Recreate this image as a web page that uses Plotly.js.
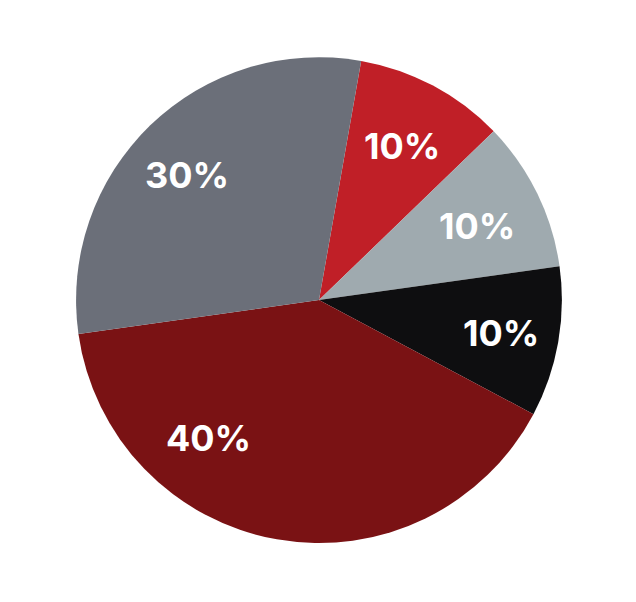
<!DOCTYPE html>
<html>
<head>
<meta charset="utf-8">
<script src="https://cdn.plot.ly/plotly-3.0.1.min.js"></script>
<style>html,body{margin:0;padding:0;background:#fff;}#chart{width:636px;height:602px;}</style>
</head>
<body>
<div id="chart"></div>
<script>
const labels = ["A", "B", "C", "D", "E"];
const values = [10, 10, 10, 40, 30];
const textLabels = ["10%", "10%", "10%", "40%", "30%"];
const colors = ["#C01F27", "#9FAAAF", "#0E0E10", "#7A1214", "#6B6F79"];

// label placement styling (angle nudge in degrees, radius as fraction of pie radius)
const labelAngleNudge = [0.5, 1, 0.3, 28.7, -2.6];
const labelRadiusFrac = [0.72, 0.72, 0.76, 0.73, 0.75];

const W = 636, H = 602;
const domX = [0.1195, 0.8836], domY = [0.098, 0.905];
const rotation = 10;

const trace = {
  type: "pie",
  labels: labels,
  values: values,
  textinfo: "none",
  sort: false,
  direction: "clockwise",
  rotation: rotation,
  marker: { colors: colors, line: { width: 0 } },
  hoverinfo: "none",
  domain: { x: domX, y: domY }
};

// compute label positions from the data values (cumulative slice angles)
const total = values.reduce((a, b) => a + b, 0);
const cx = (domX[0] + domX[1]) / 2 * W;
const cyTop = (1 - (domY[0] + domY[1]) / 2) * H;
const R = Math.min((domX[1] - domX[0]) * W, (domY[1] - domY[0]) * H) / 2;
let cum = 0;
const annotations = values.map((v, i) => {
  const mid = rotation + (cum + v / 2) / total * 360 + labelAngleNudge[i];
  cum += v;
  const a = mid * Math.PI / 180;
  const r = R * labelRadiusFrac[i];
  const px = cx + r * Math.sin(a);
  const py = cyTop - r * Math.cos(a);
  return {
    xref: "paper", yref: "paper",
    x: px / W, y: 1 - py / H,
    xanchor: "center", yanchor: "middle",
    text: textLabels[i],
    showarrow: false,
    font: { family: "Inter, 'Open Sans', sans-serif", size: 36, color: "#ffffff", weight: 700 }
  };
});

Plotly.newPlot("chart", [trace], {
  width: W,
  height: H,
  margin: { l: 0, r: 0, t: 0, b: 0 },
  showlegend: false,
  paper_bgcolor: "#ffffff",
  annotations: annotations
}, { displayModeBar: false, staticPlot: true });
</script>
</body>
</html>
